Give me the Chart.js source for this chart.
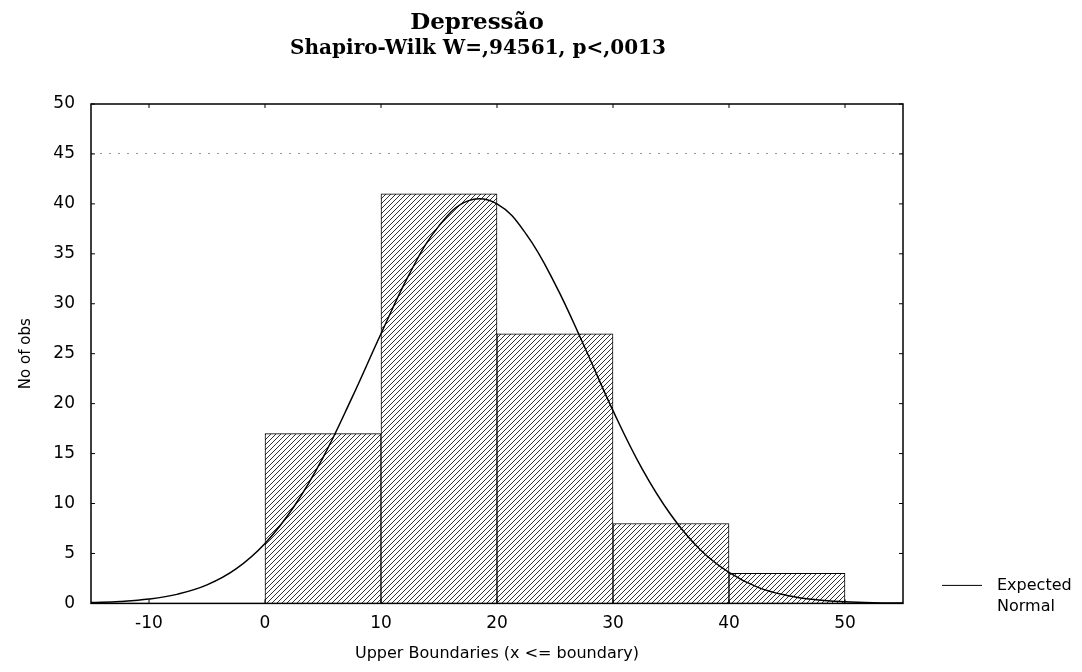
<!DOCTYPE html>
<html>
<head>
<meta charset="utf-8">
<script src="https://cdn.jsdelivr.net/npm/chart.js@4/dist/chart.umd.min.js"></script>
<style>
  body { margin: 0; background: #fff; }
  #wrap { width: 1082px; height: 672px; }
</style>
</head>
<body>
<div id="wrap"><canvas id="hist" width="1082" height="672"></canvas></div>
<script>
// histogram bins (bin centres) and counts
var binCenters = [5, 15, 25, 35, 45];
var binCounts = [17, 41, 27, 8, 3];

// expected normal curve
var curveX = [-15, -12.5, -10, -7.5, -5, -2.5, 0, 2.5, 5, 7.5, 10, 12.5, 15, 17.5, 20, 22.5, 25, 27.5, 30, 32.5, 35, 37.5, 40, 42.5, 45, 47.5, 50, 52.5, 55];
var curveY = [0.08, 0.19, 0.43, 0.93, 1.85, 3.45, 6.0, 9.7, 14.6, 20.6, 27.0, 33.1, 37.8, 40.3, 40.0, 37.0, 32.0, 25.8, 19.3, 13.5, 8.85, 5.4, 3.1, 1.6, 0.8, 0.37, 0.16, 0.06, 0.03];

var xTicks = [-10, 0, 10, 20, 30, 40, 50];
var yTicks = [0, 5, 10, 15, 20, 25, 30, 35, 40, 45, 50];

var chartTitle = 'Depressão';
var chartSubtitle = 'Shapiro-Wilk W=,94561, p<,0013';

var sansFont = '"DejaVu Sans", "Liberation Sans", Arial, sans-serif';
var serifFont = '"DejaVu Serif", "Liberation Serif", serif';

function makeHatch() {
    var c = document.createElement('canvas');
    c.width = 5; c.height = 5;
    var g = c.getContext('2d');
    g.fillStyle = '#fff';
    g.fillRect(0, 0, 5, 5);
    g.strokeStyle = '#333';
    g.lineWidth = 1;
    g.beginPath();
    g.moveTo(-1, 6); g.lineTo(6, -1);
    g.moveTo(-1, 1); g.lineTo(1, -1);
    g.moveTo(4, 6); g.lineTo(6, 4);
    g.stroke();
    return g.createPattern(c, 'repeat');
}

// titles, frame, inner tick marks and the legend on the right
var framePlugin = {
    id: 'frame',
    afterDraw: function (chart) {
        var ctx = chart.ctx;
        var a = chart.chartArea;
        var sx = chart.scales.x, sy = chart.scales.y;
        ctx.save();
        // titles (sit a bit left of the plot centre, as in the original)
        ctx.fillStyle = '#000';
        ctx.textAlign = 'center';
        ctx.textBaseline = 'middle';
        ctx.font = 'bold 23px ' + serifFont;
        ctx.fillText(chartTitle, 477, 23);
        ctx.font = 'bold 20px ' + serifFont;
        ctx.fillText(chartSubtitle, 478, 49);

        ctx.strokeStyle = '#000';
        ctx.lineWidth = 1.5;
        ctx.strokeRect(a.left, a.top, a.right - a.left, a.bottom - a.top);
        ctx.lineWidth = 1;
        ctx.beginPath();
        xTicks.forEach(function (v) {
            var px = sx.getPixelForValue(v);
            ctx.moveTo(px, a.top); ctx.lineTo(px, a.top + 4);
            ctx.moveTo(px, a.bottom); ctx.lineTo(px, a.bottom - 4);
        });
        yTicks.forEach(function (v) {
            var py = sy.getPixelForValue(v);
            ctx.moveTo(a.left, py); ctx.lineTo(a.left + 4, py);
            ctx.moveTo(a.right, py); ctx.lineTo(a.right - 4, py);
        });
        ctx.stroke();
        // legend
        var ly = a.bottom - 18;
        ctx.beginPath();
        ctx.moveTo(a.right + 39, ly); ctx.lineTo(a.right + 79, ly);
        ctx.stroke();
        ctx.font = '16px ' + sansFont;
        ctx.textAlign = 'left';
        ctx.fillText('Expected', a.right + 94, ly);
        ctx.fillText('Normal', a.right + 94, ly + 21);
        ctx.restore();
    }
};

var ctx = document.getElementById('hist');
var hist_chart = new Chart(ctx, {
    data: {
        datasets: [
            {
                type: 'line',
                label: 'Expected Normal',
                data: curveX.map(function (x, i) { return { x: x, y: curveY[i] }; }),
                borderColor: '#000',
                borderWidth: 1.5,
                pointRadius: 0,
                tension: 0.4,
                fill: false,
                order: 0
            },
            {
                type: 'bar',
                label: 'No of obs',
                data: binCenters.map(function (x, i) { return { x: x, y: binCounts[i] }; }),
                backgroundColor: makeHatch(),
                borderColor: '#000',
                borderWidth: 1,
                barPercentage: 1,
                categoryPercentage: 1,
                order: 1
            }
        ]
    },
    options: {
        responsive: false,
        animation: false,
        layout: { padding: { left: 17, right: 179, top: 104, bottom: 9 } },
        plugins: {
            legend: { display: false },
            tooltip: { enabled: false },
            title: { display: false }
        },
        scales: {
            x: {
                type: 'linear',
                min: -15,
                max: 55,
                offset: false,
                afterBuildTicks: function (scale) {
                    scale.ticks = xTicks.map(function (v) { return { value: v }; });
                },
                grid: { display: false, drawTicks: false },
                border: { display: false },
                ticks: {
                    color: '#000',
                    padding: 10,
                    maxRotation: 0,
                    font: { family: sansFont, size: 17 }
                },
                title: {
                    display: true,
                    text: 'Upper Boundaries (x <= boundary)',
                    color: '#000',
                    padding: { top: 0, bottom: 0 },
                    font: { family: sansFont, size: 16 }
                }
            },
            y: {
                min: 0,
                max: 50,
                afterBuildTicks: function (scale) {
                    scale.ticks = yTicks.map(function (v) { return { value: v }; });
                },
                afterFit: function (scale) {
                    scale.width = 74;
                },
                grid: {
                    drawTicks: false,
                    color: function (c) { return c.tick && c.tick.value === 45 ? '#999' : 'rgba(0,0,0,0)'; }
                },
                border: { display: false, dash: [2, 7] },
                ticks: {
                    color: '#000',
                    padding: 16,
                    font: { family: sansFont, size: 17 }
                },
                title: {
                    display: true,
                    text: 'No of obs',
                    color: '#000',
                    padding: { top: 0, bottom: 0 },
                    font: { family: sansFont, size: 15 }
                }
            }
        }
    },
    plugins: [framePlugin]
});
</script>
</body>
</html>
